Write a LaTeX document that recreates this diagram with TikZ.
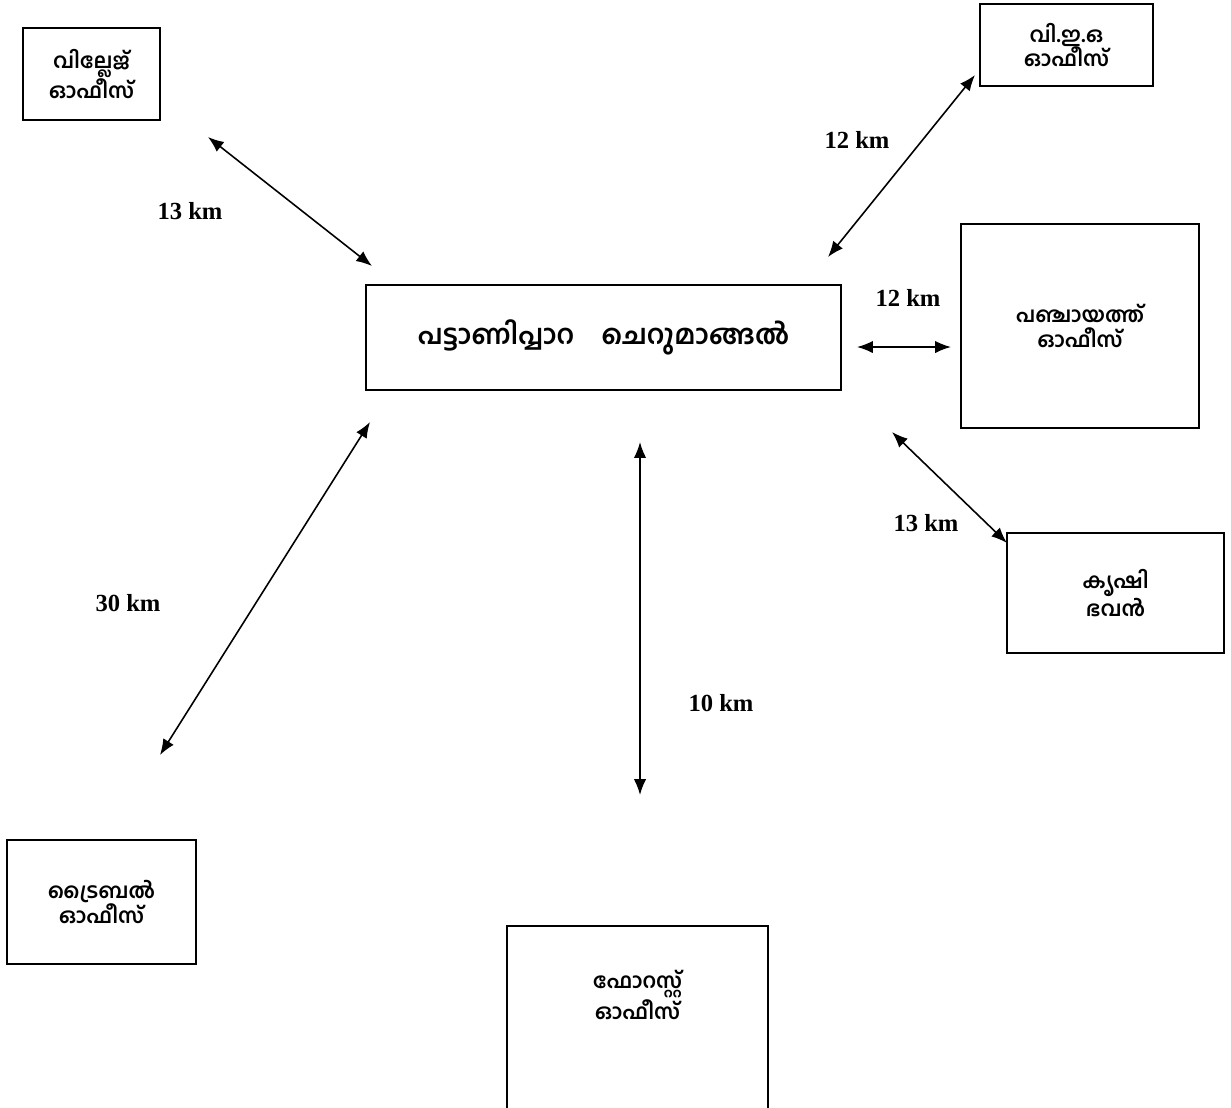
\documentclass[tikz,border=0pt]{standalone}
\usepackage{fontspec}
\setmainfont{Liberation Serif}
\newfontfamily\malfont[Script=Malayalam]{Hind Kochi}
\usetikzlibrary{arrows.meta}
\begin{document}
\begin{tikzpicture}[x=0.02cm,y=-0.02cm]
  \tikzstyle{office}=[draw, line width=0.9pt, inner sep=0pt, align=center,
    font=\malfont\bfseries\large]
  \tikzstyle{dist}=[font=\bfseries\fontsize{14}{16}\selectfont]
  \tikzstyle{link}=[{Latex[length=9pt,width=7pt]}-{Latex[length=9pt,width=7pt]}, line width=0.9pt]
  \clip (0,0) rectangle (1231,1107);
  % offices
  \node[office, minimum width=9.5cm, minimum height=2.1cm,
    font=\malfont\bfseries\fontsize{15.5}{18}\selectfont]
    (centre) at (603.5,337.5) {പട്ടാണിപ്പാറ\quad ചെറുമാങ്ങൽ};
  \node[office, minimum width=2.74cm, minimum height=1.84cm]
    (village) at (91.5,74) {വില്ലേജ്\\ഓഫീസ്};
  \node[office, minimum width=3.46cm, minimum height=1.64cm]
    (veo) at (1066.5,45) {വി.ഇ.ഒ\\ഓഫീസ്};
  \node[office, minimum width=4.76cm, minimum height=4.08cm]
    (panchayat) at (1080,326) {പഞ്ചായത്ത്\\ഓഫീസ്};
  \node[office, minimum width=4.34cm, minimum height=2.4cm]
    (krishi) at (1115.5,593) {കൃഷി\\ഭവൻ};
  \node[office, minimum width=3.78cm, minimum height=2.48cm]
    (tribal) at (101.5,902) {ട്രൈബൽ\\ഓഫീസ്};
  \node[office, minimum width=5.22cm, minimum height=3.88cm]
    (forest) at (637.5,1023) {};
  \node[office, draw=none] (forestname) at (637.5,995) {ഫോറസ്റ്റ്\\ഓഫീസ്};
  % arrow ends
  \coordinate (v-a) at (208,137);  \coordinate (v-b) at (372,266);
  \coordinate (e-a) at (975,75);   \coordinate (e-b) at (828,257);
  \coordinate (p-a) at (951,347);  \coordinate (p-b) at (857,347);
  \coordinate (k-a) at (1007,543); \coordinate (k-b) at (892,432);
  \coordinate (t-a) at (160,755);  \coordinate (t-b) at (370,422);
  \coordinate (f-a) at (640,795);  \coordinate (f-b) at (640,442);
  \foreach \i in {v,e,p,k,t,f}
    \draw[link] (\i-a) -- (\i-b);
  % distances
  \node[dist] (d-v) at (190,211) {13 km};
  \node[dist] (d-e) at (857,140) {12 km};
  \node[dist] (d-p) at (908,298) {12 km};
  \node[dist] (d-k) at (926,523) {13 km};
  \node[dist] (d-t) at (128,603) {30 km};
  \node[dist] (d-f) at (721,703) {10 km};
\end{tikzpicture}
\end{document}
